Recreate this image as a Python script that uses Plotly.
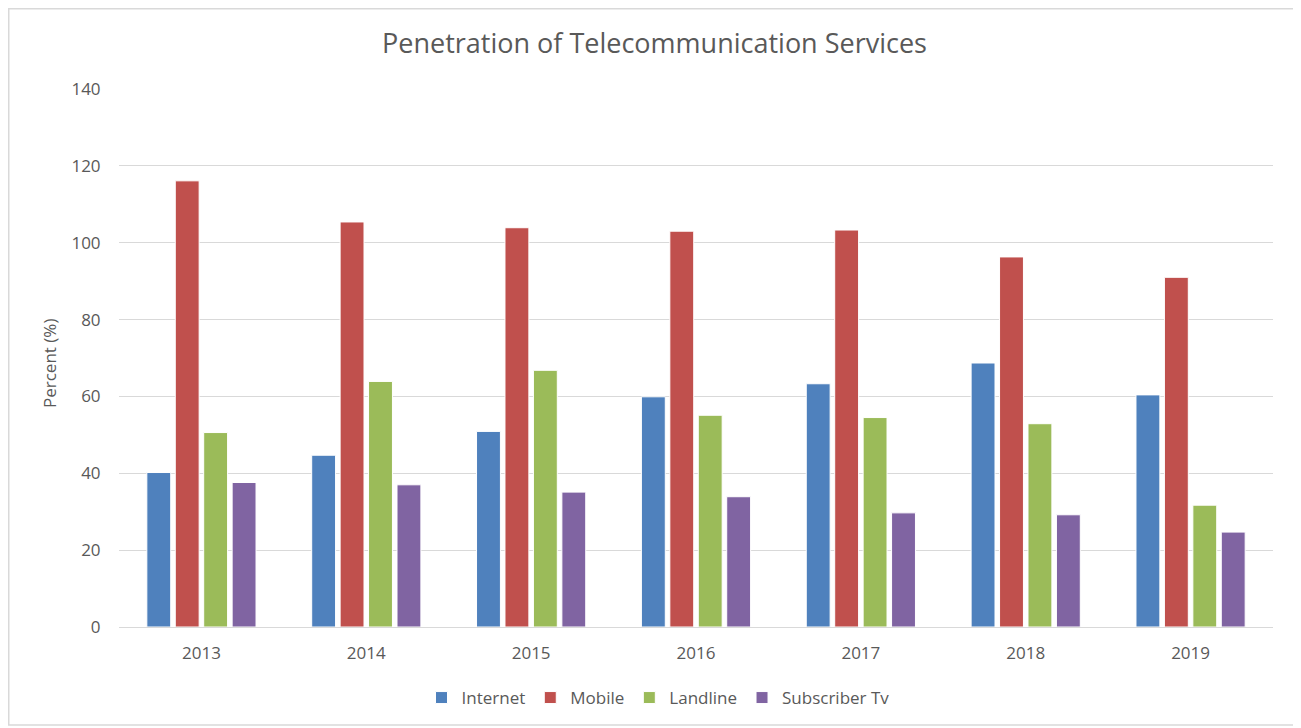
import plotly.graph_objects as go

years = ["2013", "2014", "2015", "2016", "2017", "2018", "2019"]
internet = [40.2, 44.7, 50.9, 59.9, 63.3, 68.7, 60.4]
mobile = [116.1, 105.4, 103.9, 103.0, 103.3, 96.3, 91.0]
landline = [50.6, 63.9, 66.8, 55.1, 54.5, 52.9, 31.7]
subscriber_tv = [37.6, 37.0, 35.1, 33.9, 29.7, 29.2, 24.7]

series = [
    ("Internet", internet, "#4F81BD"),
    ("Mobile", mobile, "#C0504D"),
    ("Landline", landline, "#9BBB59"),
    ("Subscriber Tv", subscriber_tv, "#8064A2"),
]

FONT = "'Open Sans', sans-serif"
GREY = "#595959"

fig = go.Figure()
for name, vals, col in series:
    fig.add_trace(go.Bar(
        x=years, y=vals, name=name,
        marker=dict(color=col, line=dict(color="white", width=1)),
    ))

# page body has an 8px margin: figure is drawn in (screen - 8) coordinates
OFF = 8
W, H = 1301 - OFF, 728 - OFF
L, R = 119 - OFF, W - (1273 - OFF)
T, B = 89 - OFF, H - (627 - OFF)
pw, ph = W - L - R, H - T - B


def px_x(sx):
    return (sx - OFF - L) / pw


def px_y(sy):
    return (T + ph - (sy - OFF)) / ph


fig.update_layout(
    width=W, height=H,
    margin=dict(l=L, r=R, t=T, b=B),
    paper_bgcolor="white", plot_bgcolor="white",
    barmode="group", bargap=0.31, bargroupgap=0.16,
    font=dict(family=FONT, size=17, color=GREY),
    title=dict(text="Penetration of Telecommunication Services",
               x=0.5, xanchor="center", y=(H - (44 - OFF)) / H, yanchor="middle",
               font=dict(size=27, color=GREY, family=FONT)),
    showlegend=True,
    legend=dict(orientation="h", x=px_x(658), xanchor="center",
                y=px_y(698), yanchor="middle", font=dict(size=17, color=GREY),
                itemwidth=30, traceorder="normal"),
    xaxis=dict(showgrid=False, showline=True, linecolor="#D9D9D9", linewidth=1,
               ticks="outside", ticklen=11, tickcolor="rgba(0,0,0,0)",
               tickfont=dict(size=17, color=GREY)),
    yaxis=dict(range=[0, 140], dtick=20, showgrid=True, gridcolor="#D9D9D9",
               gridwidth=1, zeroline=False, showline=False,
               ticks="outside", ticklen=14, tickcolor="rgba(0,0,0,0)",
               tickfont=dict(size=17, color=GREY)),
    annotations=[dict(text="Percent (%)", xref="paper", yref="paper",
                      x=px_x(50), y=px_y(364), textangle=-90,
                      showarrow=False, xanchor="center", yanchor="middle",
                      font=dict(size=17, color=GREY, family=FONT))],
    shapes=[dict(type="rect", xref="paper", yref="paper",
                 x0=(0.75 - L) / pw, x1=px_x(1297),
                 y0=px_y(725), y1=(T + ph - 0.75) / ph,
                 line=dict(color="#D9D9D9", width=1.5), fillcolor="rgba(0,0,0,0)",
                 layer="below")],
)

fig.write_html("out.html")
